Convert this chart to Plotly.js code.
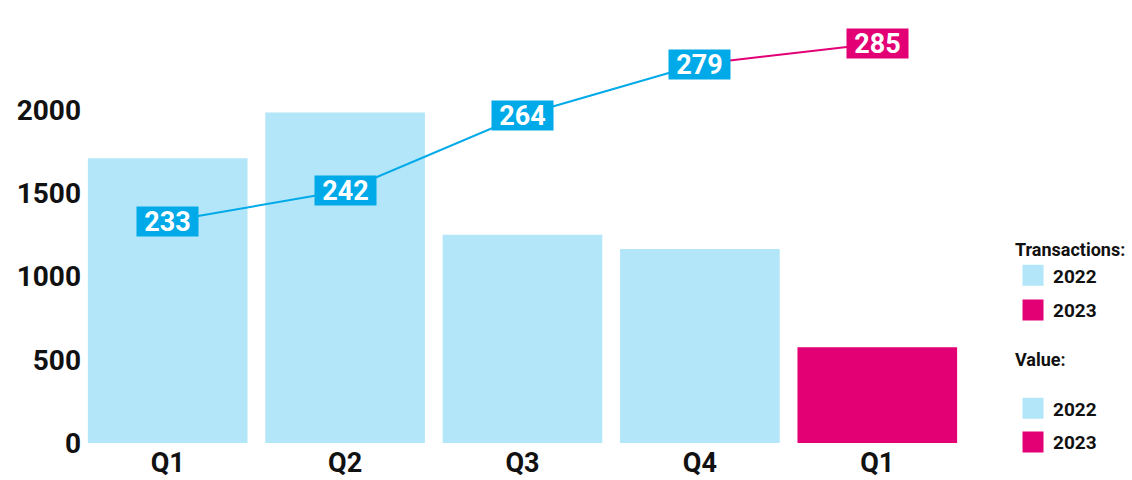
<!DOCTYPE html>
<html>
<head>
<meta charset="utf-8">
<script src="https://cdn.plot.ly/plotly-3.0.1.min.js"></script>
<style>
  html, body { margin: 0; padding: 0; background: #ffffff; }
  #chart { width: 1132px; height: 480px; }
</style>
</head>
<body>
<div id="chart"></div>
<script>
// ---- data ----
const periodKeys2022 = ["Q1 2022", "Q2 2022", "Q3 2022", "Q4 2022"];
const periodKeys2023 = ["Q1 2023"];
const quarterLabels = ["Q1", "Q2", "Q3", "Q4", "Q1"];
const value2022 = [1710, 1985, 1250, 1165];
const value2023 = [575];
const transactions2022 = [233, 242, 264, 279];
const transactions2023 = [285];
const yTickVals = [0, 500, 1000, 1500, 2000];
const legendYears = ["2022", "2023"];

// ---- styles ----
const LIGHT = "#b3e6f8";
const CYAN = "#00aae9";
const MAGENTA = "#e20074";
const FONT = "Roboto, 'Liberation Sans', sans-serif";

const allKeys = periodKeys2022.concat(periodKeys2023);

const traces = [
  {
    type: "bar", x: periodKeys2022, y: value2022,
    marker: { color: LIGHT }, showlegend: false, hoverinfo: "x+y"
  },
  {
    type: "bar", x: periodKeys2023, y: value2023,
    marker: { color: MAGENTA }, showlegend: false, hoverinfo: "x+y"
  },
  {
    type: "scatter", mode: "lines", x: periodKeys2022, y: transactions2022,
    yaxis: "y2", line: { color: CYAN, width: 2 }, showlegend: false
  },
  {
    type: "scatter", mode: "lines",
    x: [periodKeys2022[periodKeys2022.length - 1], periodKeys2023[0]],
    y: [transactions2022[transactions2022.length - 1], transactions2023[0]],
    yaxis: "y2", line: { color: MAGENTA, width: 2 }, showlegend: false
  }
];

// legend entries (square swatches) for the two legend blocks
const legendColors = [LIGHT, MAGENTA];
["legend", "legend2"].forEach(function (lg) {
  legendYears.forEach(function (yr, i) {
    traces.push({
      type: "scatter", mode: "markers", x: [null], y: [null],
      name: yr, legend: lg, legendgroup: lg + yr,
      marker: { symbol: "square", size: 16, color: legendColors[i],
                line: { color: legendColors[i], width: 5 } },
      hoverinfo: "skip"
    });
  });
});

// value labels on the transactions line
const annotations = [];
function addLabel(k, v, color) {
  annotations.push({
    x: k, y: v, xref: "x", yref: "y2",
    text: String(v), showarrow: false,
    xanchor: "center", yanchor: "middle",
    bgcolor: color, width: 61, height: 29, borderpad: 0,
    font: { family: FONT, size: 27, color: "#ffffff", weight: "bold" }
  });
}
periodKeys2022.forEach(function (k, i) { addLabel(k, transactions2022[i], CYAN); });
periodKeys2023.forEach(function (k, i) { addLabel(k, transactions2023[i], MAGENTA); });

const layout = {
  width: 1132, height: 480,
  margin: { l: 79, r: 166, t: 10, b: 37, autoexpand: false },
  paper_bgcolor: "#ffffff", plot_bgcolor: "#ffffff",
  font: { family: FONT, color: "#111111" },
  barmode: "overlay", bargap: 0.1,
  xaxis: {
    type: "category", categoryorder: "array", categoryarray: allKeys,
    range: [-0.5, allKeys.length - 0.5],
    tickmode: "array", tickvals: allKeys, ticktext: quarterLabels,
    tickfont: { family: FONT, size: 27, color: "#111111", weight: "bold" },
    showgrid: false, zeroline: false, showline: false, ticks: "",
    ticklabelstandoff: 1, fixedrange: true
  },
  yaxis: {
    range: [0, 2600],
    tickmode: "array", tickvals: yTickVals,
    tickfont: { family: FONT, size: 28, color: "#111111", weight: "bold" },
    showgrid: false, zeroline: false, showline: false, ticks: "",
    ticklabelstandoff: -3, fixedrange: true
  },
  yaxis2: {
    overlaying: "y", side: "right", range: [168.1, 294.8],
    visible: false, showgrid: false, zeroline: false, fixedrange: true
  },
  legend: {
    x: 1.053, xanchor: "left", y: 0.485, yanchor: "top",
    title: { text: "Transactions:", font: { family: FONT, size: 18, weight: "bold", color: "#111111" } },
    font: { family: FONT, size: 19, weight: "bold", color: "#111111" },
    traceorder: "grouped", tracegroupgap: 7, bgcolor: "rgba(0,0,0,0)"
  },
  legend2: {
    x: 1.053, xanchor: "left", y: 0.232, yanchor: "top",
    title: { text: "Value:<br>&nbsp;", font: { family: FONT, size: 18, weight: "bold", color: "#111111" } },
    font: { family: FONT, size: 19, weight: "bold", color: "#111111" },
    traceorder: "grouped", tracegroupgap: 6, bgcolor: "rgba(0,0,0,0)"
  },
  annotations: annotations,
  showlegend: true
};

Plotly.newPlot("chart", traces, layout, { displayModeBar: false, staticPlot: true });
</script>
</body>
</html>
